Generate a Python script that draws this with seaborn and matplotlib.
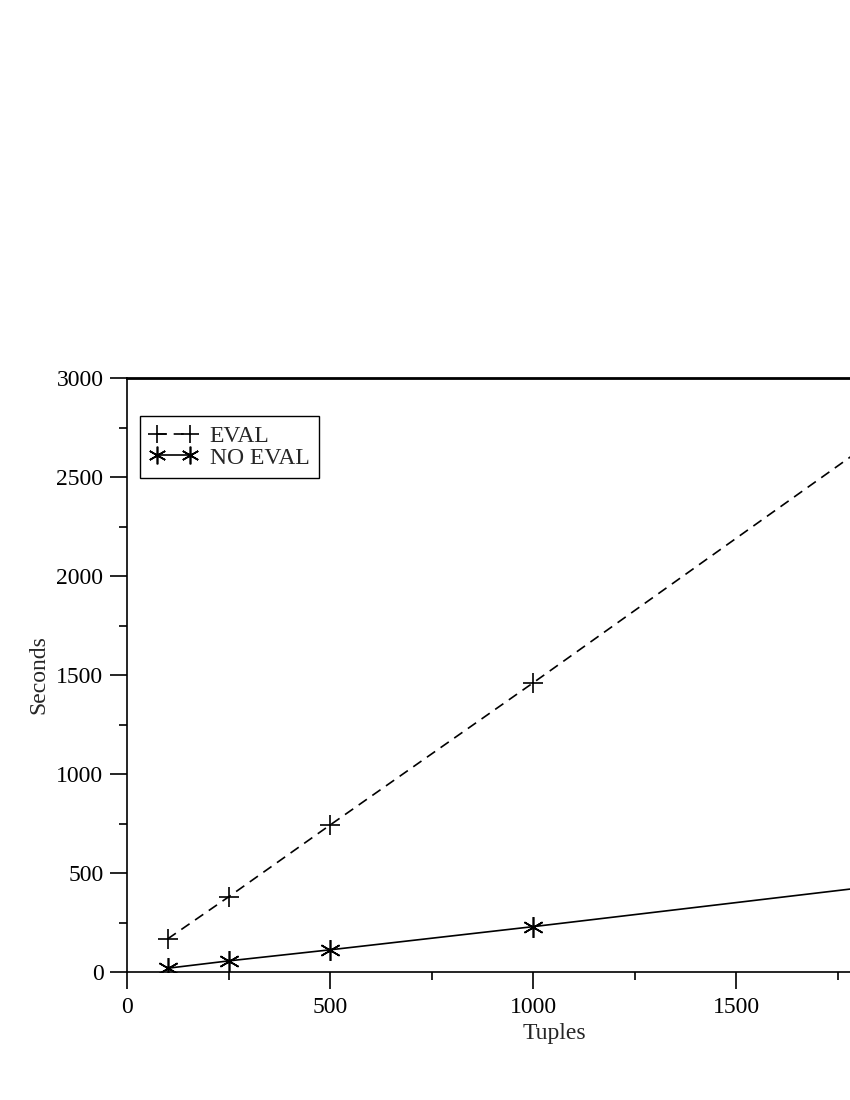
import matplotlib
matplotlib.use("Agg")
import matplotlib.pyplot as plt
import seaborn as sns
import pandas as pd
from matplotlib.ticker import MultipleLocator

tuples = [100, 250, 500, 1000, 2000]
eval_seconds = [167, 379, 742, 1460, 2920]
noeval_seconds = [19, 56, 112, 229, 472]
x_ticks = [0, 500, 1000, 1500]
y_ticks = [0, 500, 1000, 1500, 2000, 2500, 3000]

sns.set_style("ticks")
plt.rcParams['font.family'] = ['Liberation Serif', 'DejaVu Serif']

FS = 17

fig = plt.figure(figsize=(8.5, 11), dpi=100)
ax = fig.add_axes([127/850, 1 - 972/1100, 812/850, 594/1100])

df_eval = pd.DataFrame({"Tuples": tuples, "Seconds": eval_seconds})
df_noeval = pd.DataFrame({"Tuples": tuples, "Seconds": noeval_seconds})

sns.lineplot(data=df_eval, x="Tuples", y="Seconds", ax=ax, color="black",
             linestyle=(0, (6, 4)), linewidth=1.2, marker="+", markersize=15,
             markeredgewidth=1.2, markeredgecolor="black", label="EVAL")
sns.lineplot(data=df_noeval, x="Tuples", y="Seconds", ax=ax, color="black",
             linestyle="-", linewidth=1.2, marker=(6, 2, 0), markersize=15,
             markeredgewidth=1.2, markeredgecolor="black", label="NO EVAL")

ax.set_xlim(0, 2000)
ax.set_ylim(0, 3000)
ax.set_xticks(x_ticks)
ax.set_yticks(y_ticks)
ax.xaxis.set_minor_locator(MultipleLocator(250))
ax.yaxis.set_minor_locator(MultipleLocator(250))
ax.tick_params(axis="both", which="major", direction="out", length=12, width=1.2,
               labelsize=FS, colors="black", pad=5)
ax.tick_params(axis="x", which="major", pad=6)
ax.tick_params(axis="both", which="minor", direction="out", length=5.5, width=1.2,
               colors="black")

for side in ["left", "bottom", "right"]:
    ax.spines[side].set_linewidth(1.2)
    ax.spines[side].set_color("black")
ax.spines["top"].set_linewidth(2.0)
ax.spines["top"].set_color("black")

ax.set_xlabel("Tuples", fontsize=FS)
ax.set_ylabel("Seconds", fontsize=FS)
ax.xaxis.set_label_coords(0.526, -0.086)
ax.yaxis.set_label_coords(-0.095, 0.5)

leg = ax.legend(loc="upper left", bbox_to_anchor=(0.016, 0.936), borderaxespad=0,
                fontsize=FS, frameon=True, fancybox=False, numpoints=2,
                handlelength=2.0, handletextpad=0.55, borderpad=0.4,
                labelspacing=0.0, markerscale=0.85)
leg.get_frame().set_edgecolor("black")
leg.get_frame().set_linewidth(1.0)
leg.get_frame().set_alpha(1)

fig.savefig("out.png", dpi=100)
